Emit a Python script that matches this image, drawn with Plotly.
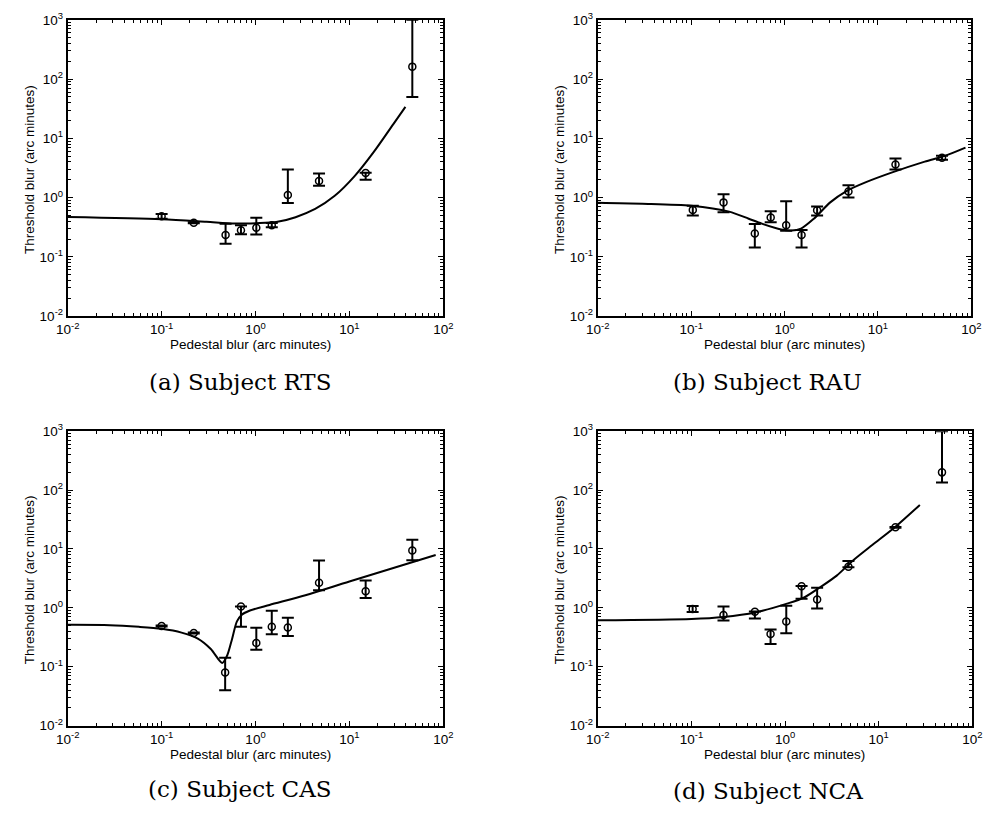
import plotly.graph_objects as go

# ---- Pedestal blur levels (arc minutes) and measured thresholds per subject ----
rts_x = [0.10, 0.22, 0.48, 0.70, 1.02, 1.49, 2.21, 4.75, 14.9, 46.8]
rts_y = [0.485, 0.377, 0.233, 0.28, 0.31, 0.34, 1.11, 1.91, 2.59, 162]
rts_hi = [0.53, 0.385, 0.363, 0.34, 0.457, 0.372, 2.98, 2.56, 2.62, 1000]
rts_lo = [0.44, 0.37, 0.167, 0.24, 0.239, 0.315, 0.81, 1.58, 1.99, 50]
rts_fit_x = [0.01, 0.1, 0.3, 0.6, 1.02, 1.66, 2.67, 4.32, 6.98, 11.3, 18.2, 29.4, 39.5]
rts_fit_y = [0.47, 0.43, 0.39, 0.365, 0.37, 0.386, 0.467, 0.643, 1.07, 2.28, 5.9, 17.4, 34]

rau_x = [0.104, 0.222, 0.48, 0.71, 1.04, 1.52, 2.23, 4.83, 15.4, 48.5]
rau_y = [0.62, 0.83, 0.248, 0.46, 0.34, 0.233, 0.61, 1.27, 3.6, 4.71]
rau_hi = [0.73, 1.14, 0.358, 0.587, 0.87, 0.285, 0.71, 1.62, 4.58, 5.08]
rau_lo = [0.50, 0.565, 0.144, 0.382, 0.275, 0.144, 0.50, 1.0, 2.98, 4.36]
rau_fit_x = [0.01, 0.03, 0.1, 0.255, 0.413, 0.57, 0.92, 1.18, 1.5, 2.06, 3.08, 4.6, 7.45, 14.2, 31.7, 51, 86.5]
rau_fit_y = [0.82, 0.79, 0.73, 0.58, 0.44, 0.363, 0.289, 0.278, 0.30, 0.44, 0.83, 1.29, 1.82, 2.66, 4.04, 5.0, 6.97]

cas_x = [0.10, 0.22, 0.475, 0.70, 1.02, 1.49, 2.21, 4.75, 14.9, 46.8]
cas_y = [0.49, 0.374, 0.080, 1.05, 0.252, 0.476, 0.465, 2.66, 1.92, 9.4]
cas_hi = [0.50, 0.38, 0.142, 1.05, 0.458, 0.89, 0.68, 6.35, 2.92, 14.3]
cas_lo = [0.48, 0.368, 0.040, 0.476, 0.195, 0.356, 0.333, 1.99, 1.47, 6.41]
cas_fit_x = [0.01, 0.028, 0.0575, 0.10, 0.163, 0.243, 0.334, 0.443, 0.499, 0.562, 0.634, 0.715, 0.873, 1.41, 3.4, 10, 83]
cas_fit_y = [0.514, 0.508, 0.476, 0.44, 0.38, 0.30, 0.20, 0.116, 0.155, 0.294, 0.59, 0.765, 0.90, 1.12, 1.64, 2.8, 7.9]

nca_x = [0.103, 0.22, 0.476, 0.70, 1.03, 1.5, 2.2, 4.75, 15.1, 47.4]
nca_y = [0.96, 0.755, 0.86, 0.36, 0.585, 2.32, 1.39, 4.99, 23.3, 200]
nca_hi = [1.08, 1.05, 0.87, 0.43, 1.09, 2.35, 2.2, 6.27, 23.6, 1000]
nca_lo = [0.85, 0.61, 0.66, 0.243, 0.37, 1.43, 0.97, 4.9, 23.0, 135]
nca_fit_x = [0.01, 0.1, 0.22, 0.48, 1.07, 1.6, 2.39, 3.56, 5.32, 8.6, 15.1, 27.5]
nca_fit_y = [0.615, 0.647, 0.70, 0.835, 1.19, 1.5, 2.26, 3.53, 6.4, 11.8, 23.9, 56]

captions = ["(a) Subject RTS", "(b) Subject RAU", "(c) Subject CAS", "(d) Subject NCA"]
x_title = "Pedestal blur (arc minutes)"
y_title = "Threshold blur (arc minutes)"
x_tickvals = [0.01, 0.1, 1, 10, 100]
x_ticktext = ["10<sup>-2</sup>", "10<sup>-1</sup>", "10<sup>0</sup>", "10<sup>1</sup>", "10<sup>2</sup>"]
y_tickvals = [0.01, 0.1, 1, 10, 100, 1000]
y_ticktext = ["10<sup>-2</sup>", "10<sup>-1</sup>", "10<sup>0</sup>", "10<sup>1</sup>", "10<sup>2</sup>", "10<sup>3</sup>"]

panels = [
    (rts_x, rts_y, rts_hi, rts_lo, rts_fit_x, rts_fit_y),
    (rau_x, rau_y, rau_hi, rau_lo, rau_fit_x, rau_fit_y),
    (cas_x, cas_y, cas_hi, cas_lo, cas_fit_x, cas_fit_y),
    (nca_x, nca_y, nca_hi, nca_lo, nca_fit_x, nca_fit_y),
]

W, H = 998, 818
# plot-area boxes in pixels: left, right, top, bottom
boxes = [(57, 441, 10, 313), (599, 981, 10, 313), (57, 441, 430.7, 731.7), (599, 982, 430.7, 731.7)]
xtitle_pos = [(244, 342), (790, 342), (244, 761), (790, 761)]
ytitle_pos = [(18, 163), (560, 163), (18, 582.5), (560, 582.5)]
caption_pos = [(233, 380), (773, 380), (233, 797), (773, 799)]

FONT = "Liberation Sans"
minor_x = [m * 10.0 ** e for e in range(-2, 2) for m in range(2, 10)]
minor_y = [m * 10.0 ** e for e in range(-2, 3) for m in range(2, 10)]

fig = go.Figure()
annotations = []
for i, (px, py, phi, plo, fx, fy) in enumerate(panels):
    n = i + 1
    xa = "x" if n == 1 else f"x{n}"
    ya = "y" if n == 1 else f"y{n}"
    fig.add_trace(go.Scatter(
        x=fx, y=fy, mode="lines", xaxis=xa, yaxis=ya,
        line=dict(color="black", width=2, shape="spline", smoothing=0.8),
        hoverinfo="skip"))
    fig.add_trace(go.Scatter(
        x=px, y=py, mode="markers", xaxis=xa, yaxis=ya,
        marker=dict(symbol="circle-open", size=7, color="black", line=dict(width=1.5, color="black")),
        error_y=dict(type="data", symmetric=False,
                     array=[h - v for h, v in zip(phi, py)],
                     arrayminus=[v - l for v, l in zip(py, plo)],
                     color="black", thickness=2, width=6)))

    l, r, t, b = boxes[i]
    common = dict(type="log", showline=True, linecolor="black", linewidth=2, mirror="allticks",
                  ticks="inside", ticklen=5, tickwidth=1, tickcolor="black", showgrid=False,
                  zeroline=False, tickfont=dict(family=FONT, size=13.5, color="black"))
    fig.update_layout({
        ("xaxis" if n == 1 else f"xaxis{n}"): dict(
            common, domain=[l / W, r / W], anchor=ya, range=[-2, 2],
            tickmode="array", tickvals=x_tickvals, ticktext=x_ticktext,
            minor=dict(tickmode="array", tickvals=minor_x, ticks="inside", ticklen=3,
                       tickwidth=1, tickcolor="black", showgrid=False)),
        ("yaxis" if n == 1 else f"yaxis{n}"): dict(
            common, domain=[1 - b / H, 1 - t / H], anchor=xa, range=[-2, 3],
            tickmode="array", tickvals=y_tickvals, ticktext=y_ticktext,
            minor=dict(tickmode="array", tickvals=minor_y, ticks="inside", ticklen=3,
                       tickwidth=1, tickcolor="black", showgrid=False)),
    })

    tx, ty = xtitle_pos[i]
    annotations.append(dict(text=x_title, x=tx / W, y=1 - ty / H, xref="paper", yref="paper",
                            xanchor="center", yanchor="middle", showarrow=False,
                            font=dict(family=FONT, size=13.5, color="black")))
    vx, vy = ytitle_pos[i]
    annotations.append(dict(text=y_title, x=vx / W, y=1 - vy / H, xref="paper", yref="paper",
                            xanchor="center", yanchor="middle", showarrow=False, textangle=-90,
                            font=dict(family=FONT, size=13.5, color="black")))
    cx, cy = caption_pos[i]
    annotations.append(dict(text=captions[i], x=cx / W, y=1 - cy / H, xref="paper", yref="paper",
                            xanchor="center", yanchor="middle", showarrow=False,
                            font=dict(family="DejaVu Serif", size=23, color="black")))

fig.update_layout(width=W, height=H, margin=dict(l=0, r=0, t=0, b=0),
                  paper_bgcolor="white", plot_bgcolor="white", showlegend=False,
                  annotations=annotations)

fig.write_html("out.html")
